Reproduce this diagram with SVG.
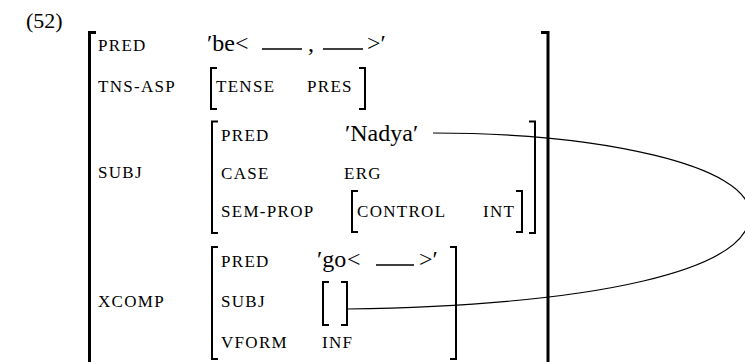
<svg xmlns="http://www.w3.org/2000/svg" width="745" height="362" viewBox="0 0 745 362">
<style>
.lab{font-family:"Liberation Serif","Times New Roman",serif;font-size:17px;letter-spacing:1.3px;fill:#000}
.val{font-family:"Liberation Serif","Times New Roman",serif;font-size:24px;fill:#000}
.num{font-family:"Liberation Serif","Times New Roman",serif;font-size:22px;fill:#000}
.br{fill:none;stroke:#000;stroke-width:2}
.obr{fill:none;stroke:#000;stroke-width:3}
.ul{stroke:#000;stroke-width:1.6}
.link{fill:none;stroke:#000;stroke-width:1.2}
</style>
<rect width="745" height="362" fill="#fff"/>
<text class="num" x="26" y="28">(52)</text>
<g id="outer">
<path class="obr" d="M96,32.5 H89.5 V362"/>
<path class="obr" d="M541,32.5 H548 V362"/>
</g>
<g id="pred">
<text class="lab" x="98" y="51">PRED</text>
<text class="val" x="207" y="51">′be</text>
<text class="val" x="235" y="51">&lt;</text>
<line class="ul" x1="262" y1="49" x2="302" y2="49"/>
<text class="val" x="308" y="51">,</text>
<line class="ul" x1="323" y1="49" x2="363" y2="49"/>
<text class="val" x="367" y="51">&gt;′</text>
</g>
<g id="tns-asp">
<text class="lab" x="98" y="92">TNS-ASP</text>
<path class="br" d="M217,68 H211 V109 H217"/>
<text class="lab" x="216" y="92">TENSE</text>
<text class="lab" x="307" y="92">PRES</text>
<path class="br" d="M359,68 H365 V109 H359"/>
</g>
<g id="subj">
<text class="lab" x="98" y="178">SUBJ</text>
<path class="br" d="M218,121.5 H212 V233 H218"/>
<path class="br" d="M529,121.5 H535 V233 H529"/>
<text class="lab" x="221" y="141">PRED</text>
<text class="val" x="345" y="141">′Nadya′</text>
<text class="lab" x="221" y="179">CASE</text>
<text class="lab" x="344" y="179">ERG</text>
<text class="lab" x="221" y="217">SEM-PROP</text>
<path class="br" d="M358,191 H352 V232 H358"/>
<text class="lab" x="357" y="217">CONTROL</text>
<text class="lab" x="483" y="217">INT</text>
<path class="br" d="M516,191 H522 V232 H516"/>
</g>
<g id="xcomp">
<text class="lab" x="98" y="307">XCOMP</text>
<path class="br" d="M218,247 H212 V359 H218"/>
<path class="br" d="M450,247 H456 V359 H450"/>
<text class="lab" x="221" y="267">PRED</text>
<text class="val" x="317" y="267">′go</text>
<text class="val" x="347" y="267">&lt;</text>
<line class="ul" x1="376" y1="265" x2="414" y2="265"/>
<text class="val" x="419" y="267">&gt;′</text>
<text class="lab" x="221" y="307">SUBJ</text>
<path class="br" d="M329,282 H323 V325 H329"/>
<path class="br" d="M341,282 H347 V325 H341"/>
<text class="lab" x="221" y="348">VFORM</text>
<text class="lab" x="322" y="348">INF</text>
</g>
<g id="connectors">
<path class="link" d="M433,133 C600,133 750,165 750,214 C750,270 600,305 347,309"/>
</g>
</svg>
